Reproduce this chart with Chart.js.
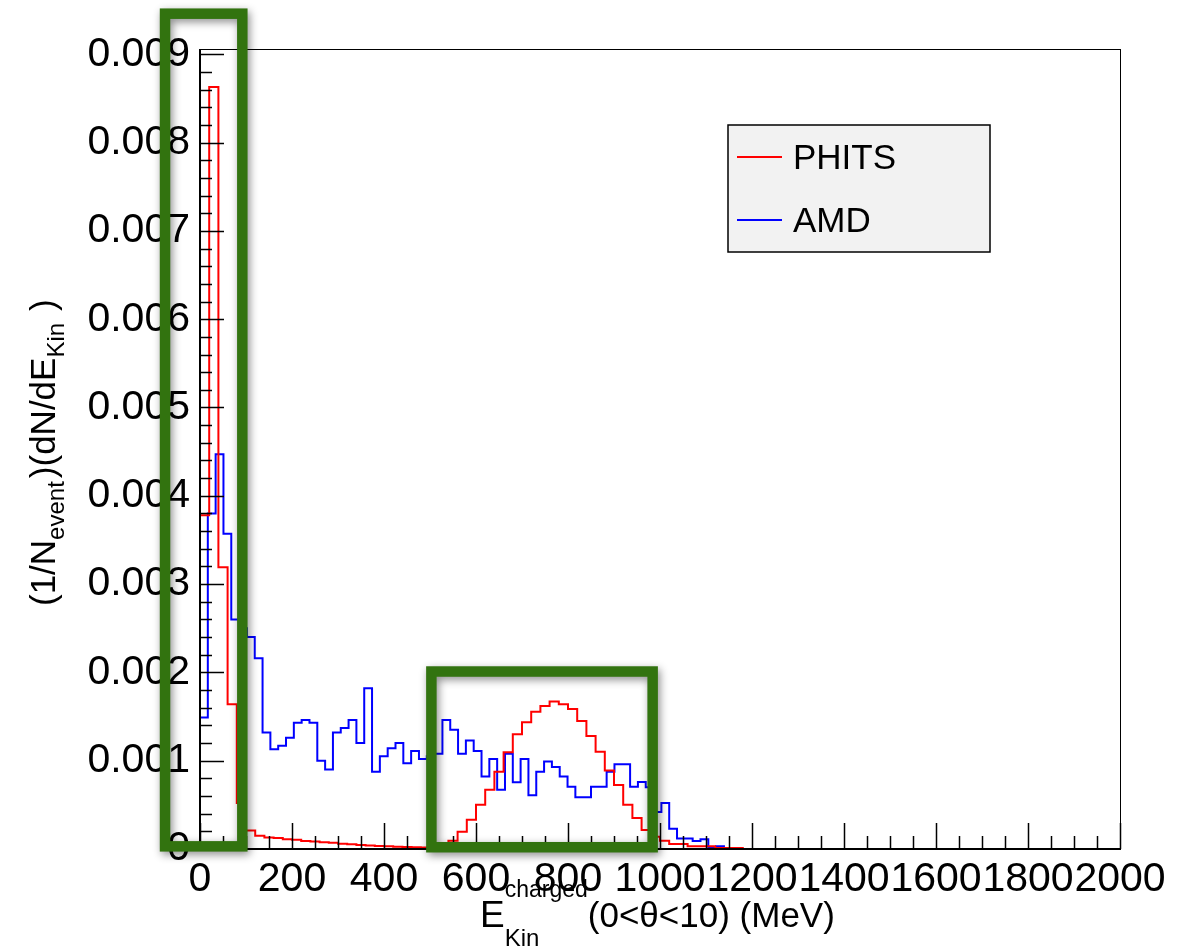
<!DOCTYPE html>
<html>
<head>
<meta charset="utf-8">
<script src="https://cdn.jsdelivr.net/npm/chart.js@4.4.0/dist/chart.umd.min.js"></script>
<style>
  html, body { margin: 0; padding: 0; background: #fff; }
  canvas { display: block; }
</style>
</head>
<body>
<canvas id="spectrum" width="1194" height="951"></canvas>
<script>
const FONT = '"Liberation Sans", Arial, Helvetica, sans-serif';

// PHITS spectrum: 100 bins of 20 MeV starting at 0
const phitsBinWidth = 20;
const phitsValues = [
  0.00378, 0.00863, 0.00319, 0.00164, 0.00052, 0.00021, 0.00015, 0.00013, 0.000125, 0.00011,
  0.000105, 0.00009, 0.000085, 0.000076, 0.00007, 0.00006, 0.000055, 0.000045, 0.00004, 0.000035,
  0.00003, 0.000025, 0.000022, 0.00002, 0.000018, 0.000018, 0.00002, 0.000094, 0.000196, 0.00033,
  0.0005, 0.00067, 0.000875, 0.001095, 0.0013, 0.001435, 0.001555, 0.00162, 0.00167, 0.00164,
  0.001585, 0.00145, 0.00128, 0.0011, 0.00089, 0.000725, 0.0005, 0.00035, 0.000215, 0.00014,
  0.000094, 0.000057, 0.000057, 0.00003, 0.00003, 0.00003, 0.00001, 0.00001, 0.00001, 0,
  0, 0, 0, 0, 0, 0, 0, 0, 0, 0,
  0, 0, 0, 0, 0, 0, 0, 0, 0, 0,
  0, 0, 0, 0, 0, 0, 0, 0, 0, 0,
  0, 0, 0, 0, 0, 0, 0, 0, 0, 0
];

// AMD spectrum: 100 bins of 17 MeV starting at 0
const amdBinWidth = 17;
const amdValues = [
  0.00149, 0.0038, 0.00447, 0.00357, 0.0026, 0.0025, 0.0024, 0.00216, 0.00132, 0.00113,
  0.00117, 0.00126, 0.00143, 0.00146, 0.00143, 0.001, 0.0009, 0.00132, 0.00137, 0.00146,
  0.0012, 0.00182, 0.000875, 0.00105, 0.00114, 0.0012, 0.00097, 0.00111, 0.00102, 0.00105,
  0.00108, 0.00146, 0.00135, 0.00108, 0.00123, 0.00111, 0.00082, 0.00102, 0.00067, 0.00108,
  0.000755, 0.00102, 0.00061, 0.000875, 0.00099, 0.00093, 0.00082, 0.000705, 0.000585, 0.000585,
  0.000705, 0.000705, 0.000875, 0.00096, 0.00096, 0.000705, 0.00076, 0.0007, 0.00042, 0.00052,
  0.00023, 0.00012, 0.00012, 0.00009, 0.00011, 0.00001, 0.00003, 0, 0, 0,
  0, 0, 0, 0, 0, 0, 0, 0, 0, 0,
  0, 0, 0, 0, 0, 0, 0, 0, 0, 0,
  0, 0, 0, 0, 0, 0, 0, 0, 0, 0
];

const xTicks = [0, 200, 400, 600, 800, 1000, 1200, 1400, 1600, 1800, 2000];
const yTicks = [0, 0.001, 0.002, 0.003, 0.004, 0.005, 0.006, 0.007, 0.008, 0.009];
const yTickLabels = ['0', '0.001', '0.002', '0.003', '0.004', '0.005', '0.006', '0.007', '0.008', '0.009'];
const xRange = [0, 2000];
const yRange = [0, 0.00906];

// marked regions (energy in MeV, value in 1/MeV)
const markEnergy = [[-76, 92], [503, 984]];
const markValue = [[0.00003, 0.00946], [0.00002, 0.00201]];

// histogram outline: one point per lower bin edge, closed at the upper edge
function histPoints(values, width) {
  const pts = values.map((v, i) => ({ x: i * width, y: v }));
  pts.push({ x: values.length * width, y: values[values.length - 1] });
  return pts;
}

const frameTicks = {
  id: 'frameTicks',
  afterDatasetsDraw(chart) {
    const { ctx, chartArea: a, scales } = chart;
    ctx.save();
    ctx.strokeStyle = '#000';
    ctx.lineWidth = 1.5;
    ctx.beginPath();
    for (let i = 0; i <= 40; i++) {
      const px = Math.round(scales.x.getPixelForValue(i * 50)) + 0.5;
      const len = i % 4 === 0 ? 26 : 13;
      ctx.moveTo(px, a.bottom);
      ctx.lineTo(px, a.bottom - len);
    }
    for (let i = 0; i <= 45; i++) {
      const py = Math.round(scales.y.getPixelForValue(i * 0.0002)) + 0.5;
      const len = i % 5 === 0 ? 24 : 12;
      ctx.moveTo(a.left, py);
      ctx.lineTo(a.left + len, py);
    }
    ctx.stroke();
    ctx.lineWidth = 1;
    ctx.strokeRect(a.left + 0.5, a.top + 0.5, a.right - a.left, a.bottom - a.top);
    ctx.lineWidth = 2;
    ctx.beginPath();
    ctx.moveTo(a.left, a.top);
    ctx.lineTo(a.left, a.bottom);
    ctx.lineTo(a.right, a.bottom);
    ctx.stroke();
    ctx.restore();
  }
};

// draws runs of text with sub/superscripts along a baseline
function drawRuns(ctx, runs, x0, y0) {
  let x = x0;
  for (const r of runs) {
    if (r.stack) {
      let w = 0;
      for (const s of r.stack) {
        ctx.font = s.size + 'px ' + FONT;
        ctx.fillText(s.text, x, y0 + s.dy);
        w = Math.max(w, ctx.measureText(s.text).width);
      }
      x += w + (r.gap || 0);
    } else {
      ctx.font = r.size + 'px ' + FONT;
      ctx.fillText(r.text, x, y0 + (r.dy || 0));
      x += ctx.measureText(r.text).width + (r.gap || 0);
    }
  }
  return x - x0;
}

const axisTitles = {
  id: 'axisTitles',
  afterDraw(chart) {
    const { ctx, chartArea: a } = chart;
    ctx.save();
    ctx.fillStyle = '#000';
    ctx.textAlign = 'left';
    ctx.textBaseline = 'alphabetic';
    drawRuns(ctx, [
      { text: 'E', size: 37, gap: 0 },
      { stack: [{ text: 'Kin', size: 24, dy: 19 }, { text: 'charged', size: 23, dy: -30 }], gap: 0 },
      { text: '(0<\u03b8<10) (MeV)', size: 35 }
    ], a.left + 280, a.bottom + 78);

    ctx.translate(a.left - 145, a.top + 557);
    ctx.rotate(-Math.PI / 2);
    drawRuns(ctx, [
      { text: '(1/N', size: 35 },
      { text: 'event', size: 24, dy: 9, gap: 3 },
      { text: ')(dN/dE', size: 35 },
      { text: 'Kin', size: 24, dy: 9, gap: 12 },
      { text: ')', size: 35 }
    ], 0, 0);
    ctx.restore();
  }
};

const boxLegend = {
  id: 'boxLegend',
  afterDraw(chart) {
    const { ctx, chartArea: a } = chart;
    const x = a.left + 528, y = a.top + 76, w = 262, h = 127;
    ctx.save();
    ctx.fillStyle = '#f2f2f2';
    ctx.fillRect(x, y, w, h);
    ctx.strokeStyle = '#000';
    ctx.lineWidth = 1.5;
    ctx.strokeRect(x, y, w, h);
    ctx.font = '35px ' + FONT;
    ctx.textBaseline = 'middle';
    chart.data.datasets.forEach((ds, i) => {
      const cy = y + 32 + i * 63;
      ctx.strokeStyle = ds.borderColor;
      ctx.lineWidth = 2;
      ctx.beginPath();
      ctx.moveTo(x + 9, cy);
      ctx.lineTo(x + 54, cy);
      ctx.stroke();
      ctx.fillStyle = '#000';
      ctx.fillText(ds.label, x + 65, cy + 2);
    });
    ctx.restore();
  }
};

const markedRegions = {
  id: 'markedRegions',
  afterDraw(chart) {
    const { ctx, scales } = chart;
    ctx.save();
    ctx.strokeStyle = 'rgb(50,115,15)';
    ctx.lineWidth = 10.5;
    ctx.shadowColor = 'rgba(0,0,0,0.45)';
    ctx.shadowBlur = 8;
    ctx.shadowOffsetX = 2;
    ctx.shadowOffsetY = 3;
    markEnergy.forEach((e, i) => {
      const x0 = scales.x.getPixelForValue(e[0]);
      const x1 = scales.x.getPixelForValue(e[1]);
      const y0 = scales.y.getPixelForValue(markValue[i][1]);
      const y1 = scales.y.getPixelForValue(markValue[i][0]);
      ctx.strokeRect(x0, y0, x1 - x0, y1 - y0);
    });
    ctx.restore();
  }
};

new Chart(document.getElementById('spectrum'), {
  type: 'line',
  data: {
    datasets: [
      {
        label: 'PHITS',
        data: histPoints(phitsValues, phitsBinWidth),
        borderColor: 'rgb(255,0,0)',
        borderWidth: 2,
        stepped: 'before',
        pointRadius: 0,
        fill: false
      },
      {
        label: 'AMD',
        data: histPoints(amdValues, amdBinWidth),
        borderColor: 'rgb(0,0,255)',
        borderWidth: 2,
        stepped: 'before',
        pointRadius: 0,
        fill: false
      }
    ]
  },
  options: {
    responsive: false,
    animation: false,
    layout: { padding: { top: 49, right: 74, left: 0, bottom: 0 } },
    plugins: { legend: { display: false }, tooltip: { enabled: false } },
    scales: {
      x: {
        type: 'linear',
        min: xRange[0],
        max: xRange[1],
        grid: { display: false, drawTicks: false },
        border: { display: false },
        afterBuildTicks(scale) { scale.ticks = xTicks.map(v => ({ value: v })); },
        afterFit(scale) { scale.height = 102; },
        ticks: {
          autoSkip: false,
          maxRotation: 0,
          minRotation: 0,
          padding: 6,
          color: '#000',
          font: { family: FONT, size: 41 },
          callback: v => String(v)
        }
      },
      y: {
        type: 'linear',
        min: yRange[0],
        max: yRange[1],
        grid: { display: false, drawTicks: false },
        border: { display: false },
        afterBuildTicks(scale) { scale.ticks = yTicks.map(v => ({ value: v })); },
        afterFit(scale) { scale.width = 200; },
        ticks: {
          autoSkip: false,
          padding: 10,
          color: '#000',
          font: { family: FONT, size: 41 },
          callback: (v, i) => yTickLabels[i]
        }
      }
    }
  },
  plugins: [frameTicks, axisTitles, boxLegend, markedRegions]
});
</script>
</body>
</html>
